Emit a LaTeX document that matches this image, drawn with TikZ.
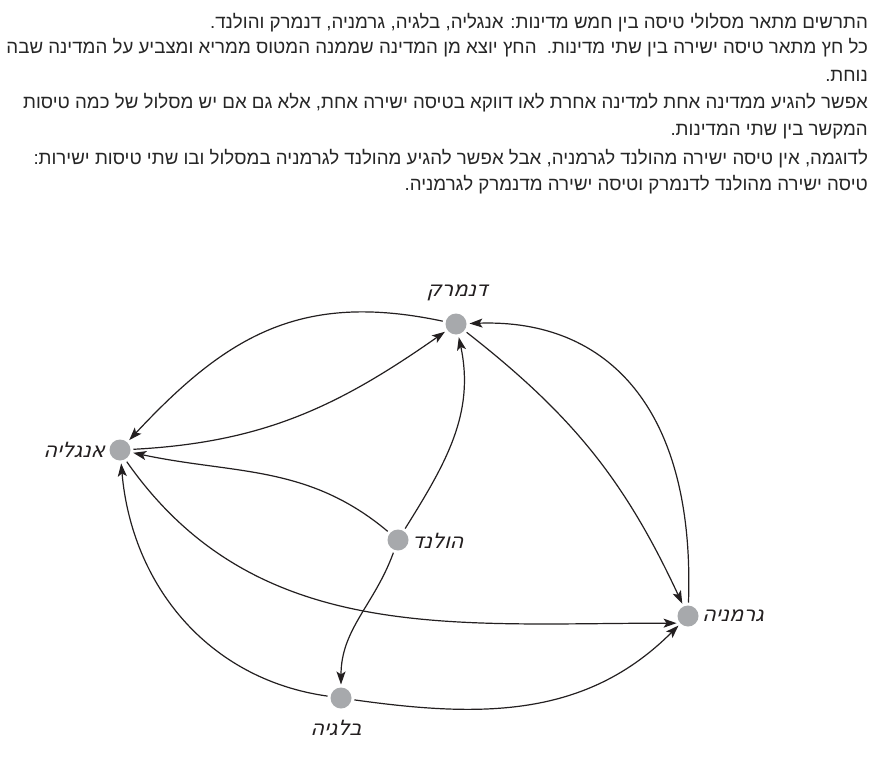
\documentclass[tikz,border=0pt]{standalone}
\usepackage{fontspec}
\usetikzlibrary{arrows.meta}
\TeXXeTstate=1
\newfontfamily\hebtext[Script=Hebrew]{Liberation Sans}
\newfontfamily\heblabel[Script=Hebrew,FakeSlant=0.25]{DejaVu Sans}
\definecolor{nodegray}{RGB}{167,169,172}
\definecolor{inkblack}{RGB}{35,31,32}
\tikzset{
  country/.style={circle,fill=nodegray,draw=none,minimum size=21pt,inner sep=0pt,outer sep=3pt},
  clabel/.style={font=\heblabel\fontsize{21}{21}\selectfont,inner sep=0pt,text=inkblack},
  flight/.style={draw=inkblack,line width=1.2pt,-{Stealth[length=13pt,width=9pt,inset=3pt]}},
  txt/.style={font=\hebtext\fontsize{18.7}{21}\selectfont,anchor=base east,inner sep=0pt,text=black!85}
}
\begin{document}
\begin{tikzpicture}[x=1pt,y=1pt]
\useasboundingbox (0,0) rectangle (880,-770);
\fill[white] (0,0) rectangle (880,-770);
% text
\node[txt] (t1) at (868,-29) {\beginR התרשים מתאר מסלולי טיסה בין חמש מדינות: אנגליה, בלגיה, גרמניה, דנמרק והולנד.\endR};
\node[txt] (t2) at (868,-54) {\beginR כל חץ מתאר טיסה ישירה בין שתי מדינות.\ \ החץ יוצא מן המדינה שממנה המטוס ממריא ומצביע על המדינה שבה המטוס\endR};
\node[txt] (t3) at (868,-82) {\beginR נוחת.\endR};
\node[txt] (t4) at (868,-109) {\beginR אפשר להגיע ממדינה אחת למדינה אחרת לאו דווקא בטיסה ישירה אחת, אלא גם אם יש מסלול של כמה טיסות\endR};
\node[txt] (t5) at (868,-136) {\beginR המקשר בין שתי המדינות.\endR};
\node[txt] (t6) at (868,-165) {\beginR לדוגמה, אין טיסה ישירה מהולנד לגרמניה, אבל אפשר להגיע מהולנד לגרמניה במסלול ובו שתי טיסות ישירות:\endR};
\node[txt] (t7) at (868,-190) {\beginR טיסה ישירה מהולנד לדנמרק וטיסה ישירה מדנמרק לגרמניה.\endR};
% nodes
\node[country] (D) at (456,-324) {};
\node[country] (E) at (120,-450) {};
\node[country] (H) at (398,-540) {};
\node[country] (G) at (688,-616) {};
\node[country] (B) at (341,-698) {};
% labels
\node[clabel] (lD) at (457,-293) {\beginR דנמרק\endR};
\node[clabel,anchor=east] (lE) at (105,-450) {\beginR אנגליה\endR};
\node[clabel,anchor=west] (lH) at (412,-541) {\beginR הולנד\endR};
\node[clabel,anchor=west] (lG) at (702,-616) {\beginR גרמניה\endR};
\node[clabel] (lB) at (336,-728) {\beginR בלגיה\endR};
% edges
\draw[flight] (D) to[out=168,in=47,looseness=1.1] (E);
\draw[flight] (E) to[out=3,in=215] (D);
\draw[flight] (H) to[out=140,in=-12] (E);
\draw[flight] (H) to[out=58,in=-78] (D);
\draw[flight] (H) to[out=-110,in=90] (B);
\draw[flight] (E.-60) to[out=-55,in=180] (G.212);
\draw[flight] (D) to[out=-38,in=115] (G);
\draw[flight] (G) to[out=88,in=2,out looseness=1.4,in looseness=1.0] (D);
\draw[flight] (B) to[out=172,in=-85] (E);
\draw[flight] (B) to[out=-8,in=-135] (G);
\end{tikzpicture}
\end{document}
